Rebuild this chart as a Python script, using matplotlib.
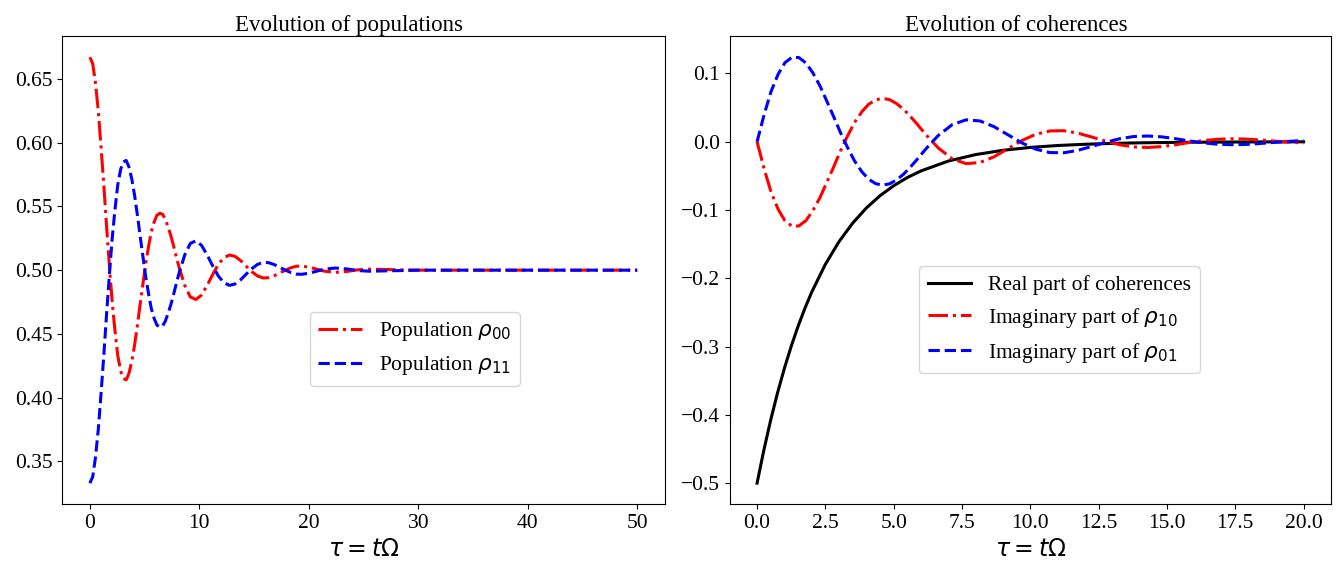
import matplotlib
matplotlib.use("Agg")
import matplotlib.pyplot as plt

plt.rcParams['font.family'] = 'serif'
plt.rcParams['font.serif'] = ['Liberation Serif', 'DejaVu Serif']
plt.rcParams['mathtext.fontset'] = 'dejavusans'

# populations, tau = t*Omega
tau_pop = [0, 0.26, 0.51, 0.77, 1.02, 1.28, 1.53, 1.79, 2.04, 2.30, 2.55, 2.81,
           3.06, 3.32, 3.57, 3.83, 4.08, 4.34, 4.59, 4.85, 5.10, 5.36, 5.61, 5.87,
           6.12, 6.38, 6.63, 6.89, 7.14, 7.40, 7.65, 7.91, 8.16,
           8.67, 9.18, 9.69, 10.20, 10.71, 11.22, 11.73, 12.24, 12.76, 13.27, 13.78,
           14.29, 14.80, 15.31, 15.82, 16.33, 16.84, 17.35, 17.86, 18.37, 18.88,
           19.39, 19.90, 20.41, 21.43, 22.45, 23.47, 24.49, 25.51,
           30, 35, 40, 45, 50]
rho00 = [0.667, 0.662, 0.647, 0.625, 0.597, 0.566, 0.534, 0.503, 0.475, 0.452, 0.433, 0.421,
         0.415, 0.414, 0.419, 0.4285, 0.441, 0.4566, 0.473, 0.4894, 0.505, 0.5184, 0.530, 0.5377,
         0.543, 0.5446, 0.544, 0.540, 0.534, 0.527, 0.519, 0.510, 0.502,
         0.488, 0.479, 0.477, 0.4805, 0.488, 0.4966, 0.5045, 0.5098, 0.5119, 0.5108, 0.5075,
         0.503, 0.4988, 0.4955, 0.4939, 0.4941, 0.4956, 0.4978, 0.500, 0.5019, 0.5031,
         0.5032, 0.5025, 0.5015, 0.4992, 0.4983, 0.4990, 0.5003, 0.5008,
         0.5, 0.5, 0.5, 0.5, 0.5]
rho11 = [0.333, 0.338, 0.353, 0.375, 0.403, 0.434, 0.466, 0.497, 0.525, 0.548, 0.567, 0.579,
         0.585, 0.586, 0.581, 0.5715, 0.559, 0.5434, 0.527, 0.5106, 0.495, 0.4816, 0.470, 0.4623,
         0.457, 0.4554, 0.456, 0.460, 0.466, 0.473, 0.481, 0.490, 0.498,
         0.512, 0.521, 0.523, 0.5195, 0.512, 0.5034, 0.4955, 0.4902, 0.4881, 0.4892, 0.4925,
         0.497, 0.5012, 0.5045, 0.5061, 0.5059, 0.5044, 0.5022, 0.500, 0.4981, 0.4969,
         0.4968, 0.4975, 0.4985, 0.5008, 0.5017, 0.5010, 0.4997, 0.4992,
         0.5, 0.5, 0.5, 0.5, 0.5]

# coherences
tau_re = [0, 0.25, 0.5, 0.75, 1, 1.25, 1.5, 1.75, 2, 2.5, 3, 3.5, 4, 4.5, 5, 5.5, 6,
          7, 8, 9, 10, 11, 12, 13, 14, 15, 16, 17, 18, 19, 20]
re_coh = [-0.5, -0.4513, -0.4073, -0.3676, -0.3318, -0.2995, -0.2703, -0.2440, -0.2202,
          -0.1794, -0.1462, -0.1191, -0.0970, -0.0790, -0.0644, -0.0524, -0.0427,
          -0.0283, -0.0188, -0.0125, -0.0083, -0.0055, -0.0037, -0.0024, -0.0016,
          -0.0011, -0.0007, -0.0005, -0.0003, -0.0002, -0.0001]

tau_im = [0, 0.26, 0.51, 0.77, 1.02, 1.28, 1.53, 1.79, 2.04, 2.30, 2.55, 2.81, 3.06,
          3.32, 3.57, 3.83, 4.08, 4.34, 4.59, 4.85, 5.10, 5.36, 5.61, 5.87, 6.12, 6.38, 6.63,
          7.14, 7.65, 8.16, 8.67, 9.18, 9.69, 10.20, 10.71, 11.22, 11.73, 12.24, 12.76,
          13.27, 13.78, 14.29, 14.80, 15.31, 15.82, 16.33, 16.84, 17.35, 17.86, 18.37,
          18.88, 19.39, 19.90, 20.0]
im10 = [0, -0.0400, -0.0734, -0.0989, -0.1158, -0.1238, -0.1233, -0.1153, -0.1010, -0.0819,
        -0.0597, -0.0361, -0.0127, 0.0092, 0.0283, 0.0437, 0.0548, 0.0614, 0.0636, 0.0616,
        0.0560, 0.0476, 0.0371, 0.0253, 0.0132, 0.0015, -0.0091,
        -0.0250, -0.0321, -0.0304, -0.0221, -0.0102, 0.0017, 0.0109, 0.0158, 0.0162, 0.0127,
        0.0070, 0.0008, -0.0044, -0.0076, -0.0084, -0.0072, -0.0045, -0.0011, 0.0016, 0.0036,
        0.0043, 0.0040, 0.0027, 0.0011, -0.0004, -0.0016, -0.0018]
im01 = [0, 0.0400, 0.0734, 0.0989, 0.1158, 0.1238, 0.1233, 0.1153, 0.1010, 0.0819,
        0.0597, 0.0361, 0.0127, -0.0092, -0.0283, -0.0437, -0.0548, -0.0614, -0.0636, -0.0616,
        -0.0560, -0.0476, -0.0371, -0.0253, -0.0132, -0.0015, 0.0091,
        0.0250, 0.0321, 0.0304, 0.0221, 0.0102, -0.0017, -0.0109, -0.0158, -0.0162, -0.0127,
        -0.0070, -0.0008, 0.0044, 0.0076, 0.0084, 0.0072, 0.0045, 0.0011, -0.0016, -0.0036,
        -0.0043, -0.0040, -0.0027, -0.0011, 0.0004, 0.0016, 0.0018]

fig = plt.figure(figsize=(13.38, 5.7), dpi=100)
ax1 = fig.add_axes([0.0467, 0.115, 0.450, 0.822])
ax2 = fig.add_axes([0.5454, 0.115, 0.4493, 0.822])

ax1.plot(tau_pop, rho00, 'r-.', lw=2.2, label=r'Population $\rho_{00}$')
ax1.plot(tau_pop, rho11, 'b--', lw=2.2, label=r'Population $\rho_{11}$')
ax1.set_title("Evolution of populations", fontsize=16.5, pad=3, x=0.476)
ax1.set_xlabel(r'$\tau = t\Omega$', fontsize=17)
ax1.legend(loc='upper left', bbox_to_anchor=(0.393, 0.434), fontsize=15.5)

ax2.plot(tau_re, re_coh, 'k-', lw=2.2, label='Real part of coherences')
ax2.plot(tau_im, im10, 'r-.', lw=2.2, label=r'Imaginary part of $\rho_{10}$')
ax2.plot(tau_im, im01, 'b--', lw=2.2, label=r'Imaginary part of $\rho_{01}$')
ax2.set_title("Evolution of coherences", fontsize=16.5, pad=3, x=0.476)
ax2.set_xlabel(r'$\tau = t\Omega$', fontsize=17)
ax2.legend(loc='upper left', bbox_to_anchor=(0.297, 0.531), fontsize=15.5)

for ax in (ax1, ax2):
    ax.tick_params(labelsize=15.5)

fig.savefig("out.png", dpi=100)
